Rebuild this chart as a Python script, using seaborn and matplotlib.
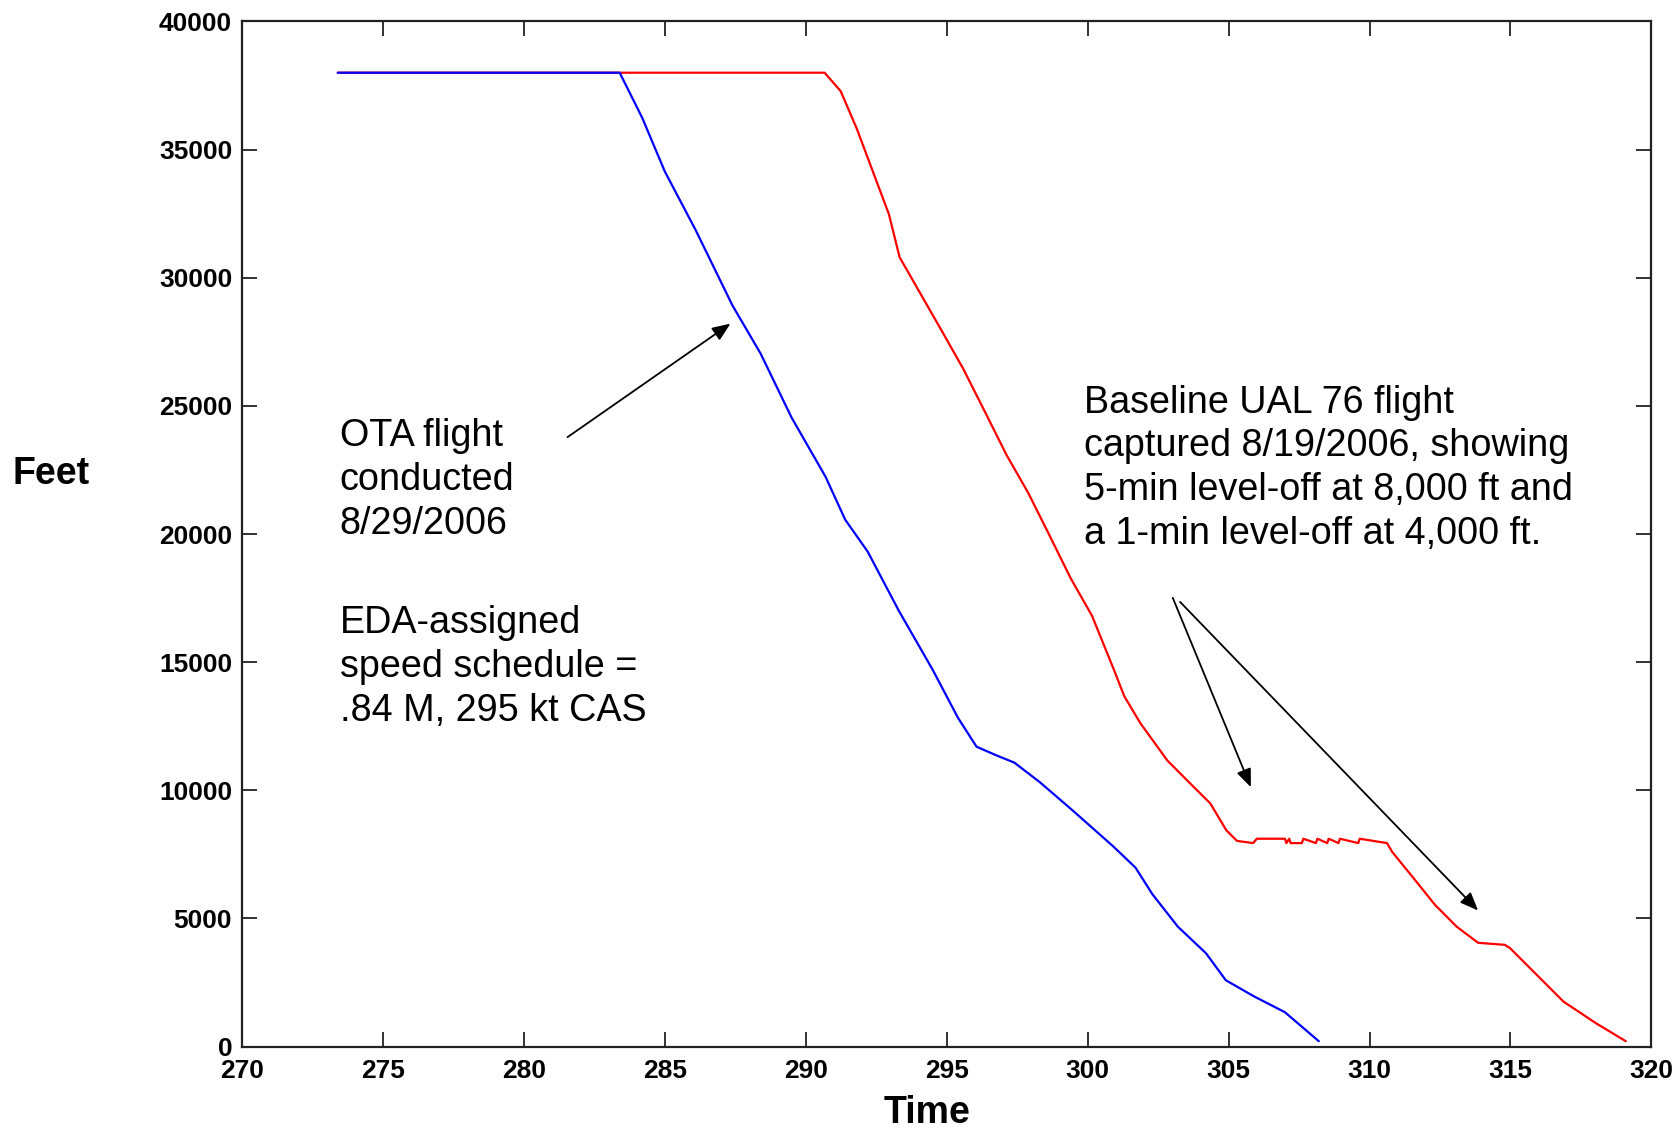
import matplotlib
matplotlib.use("Agg")
import matplotlib.pyplot as plt
import seaborn as sns

# -------------------------
# Altitude profiles (time in minutes, altitude in feet)
# -------------------------
ota_time = [273.4, 283.4, 284.2, 285.0, 286.1, 287.4, 288.4, 289.5, 290.7,
            291.4, 292.2, 293.3, 294.5, 295.4, 296.06, 296.75, 297.4, 298.3,
            299.4, 300.9, 301.7, 302.3, 303.2, 304.2, 304.9, 305.9, 307.0,
            308.2]
ota_alt = [38000, 38000, 36240, 34150, 31850, 28920, 27040, 24540, 22240,
           20560, 19310, 17010, 14710, 12830, 11700, 11370, 11080, 10320,
           9280, 7820, 6980, 5940, 4680, 3640, 2590, 1960, 1340, 210]

base_time = [273.4, 290.67, 291.24, 291.81, 292.38, 292.95, 293.33, 294.09,
             294.85, 295.6, 296.37, 297.13, 297.89, 298.65, 299.4, 300.16,
             300.93, 301.3, 301.87, 302.83, 303.59, 304.35, 304.92, 305.3,
             305.87, 306.0, 306.25, 307.0, 307.05, 307.15, 307.2, 307.6,
             307.65, 308.1, 308.15, 308.5, 308.55, 308.9, 308.95, 309.6,
             309.65, 310.62, 310.8, 311.57, 312.33, 313.09, 313.85, 314.8,
             314.98, 315.74, 316.88, 318.02, 319.09]
base_alt = [38000, 38000, 37280, 35820, 34150, 32480, 30800, 29340, 27880,
            26420, 24740, 23070, 21610, 19940, 18270, 16800, 14710, 13670,
            12620, 11160, 10320, 9490, 8440, 8025, 7940, 8110, 8110, 8110,
            7940, 8110, 7940, 7940, 8110, 7940, 8110, 7940, 8110, 7940, 8110,
            7940, 8110, 7940, 7600, 6560, 5520, 4680, 4050, 3970, 3845, 3010,
            1755, 920, 210]

x_ticks = list(range(270, 321, 5))
y_ticks = list(range(0, 40001, 5000))

sns.set_style("ticks")
plt.rcParams["font.family"] = ["Liberation Sans", "DejaVu Sans"]
plt.rcParams["text.color"] = "black"

fig = plt.figure(figsize=(16.8, 11.29), dpi=100)
ax = fig.add_axes([0.144, 0.073, 0.839, 0.908])

sns.lineplot(x=base_time, y=base_alt, sort=False, estimator=None,
             color="#ff0000", lw=1.6, ax=ax)
sns.lineplot(x=ota_time, y=ota_alt, sort=False, estimator=None,
             color="#0000ff", lw=1.6, ax=ax)

ax.set_xlim(270, 320)
ax.set_ylim(0, 40000)
ax.set_xticks(x_ticks)
ax.set_yticks(y_ticks)
tick_font = ["Liberation Sans Narrow", "Liberation Sans", "DejaVu Sans"]
ax.set_xticklabels([str(v) for v in x_ticks], fontsize=19, fontweight="bold",
                   family=tick_font)
ax.set_yticklabels([str(v) for v in y_ticks], fontsize=19, fontweight="bold",
                   family=tick_font)
ax.tick_params(direction="in", length=11, width=1.3, top=True, right=True,
               pad=7, colors="#222222", labelcolor="black")
ax.tick_params(axis="x", pad=9)
for s in ax.spines.values():
    s.set_linewidth(1.6)
    s.set_color("#222222")

fig.text(0.0305, 0.58, "Feet", fontsize=27, fontweight="bold",
         ha="center", va="center")
fig.text(0.552, 0.014, "Time", fontsize=27, fontweight="bold",
         ha="center", va="center")

# -------------------------
# Annotations
# -------------------------
ax.text(273.47, 24530, "OTA flight\nconducted\n8/29/2006", fontsize=27.2,
        va="top", ha="left", linespacing=1.28)
ax.text(273.47, 17220, "EDA-assigned\nspeed schedule =\n.84 M, 295 kt CAS",
        fontsize=27.2, va="top", ha="left", linespacing=1.28)
ax.text(299.86, 25830,
        "Baseline UAL 76 flight\ncaptured 8/19/2006, showing\n"
        "5-min level-off at 8,000 ft and\na 1-min level-off at 4,000 ft.",
        fontsize=27.2, va="top", ha="left", linespacing=1.28)

arrow = dict(arrowstyle="-|>,head_length=1.1,head_width=0.45", color="black",
             lw=1.3, shrinkA=0, shrinkB=0)
ax.annotate("", xy=(287.33, 28210), xytext=(281.55, 23780), arrowprops=arrow)
ax.annotate("", xy=(305.79, 10120), xytext=(303.02, 17510), arrowprops=arrow)
ax.annotate("", xy=(313.85, 5310), xytext=(303.28, 17350), arrowprops=arrow)

fig.savefig("out.png", dpi=100)
